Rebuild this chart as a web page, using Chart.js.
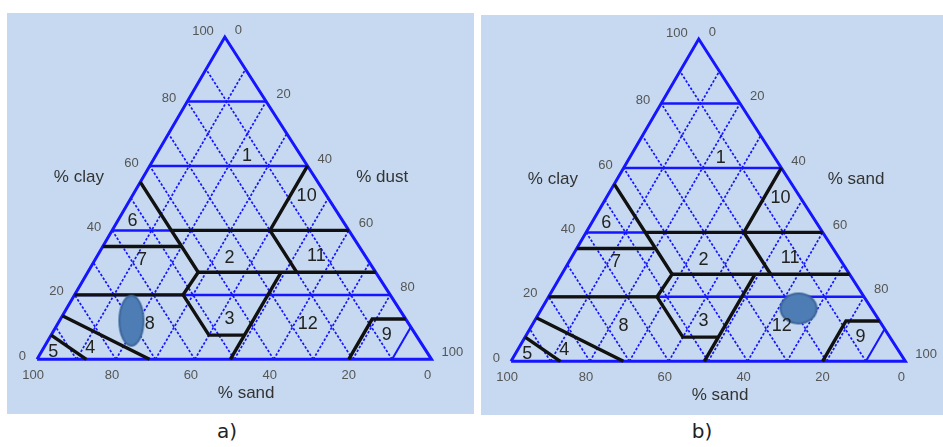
<!DOCTYPE html>
<html>
<head>
<meta charset="utf-8">
<script src="https://cdn.jsdelivr.net/npm/chart.js@4.4.1/dist/chart.umd.min.js"></script>
<style>
  body { margin: 0; background: #fff; width: 943px; height: 447px; position: relative; overflow: hidden; }
  .panel { position: absolute; background: #c6d9f0; }
  .panel canvas { display: block; }
  #panelA { left: 7px; top: 13px; width: 467px; height: 401px; }
  #panelB { left: 481px; top: 15px; width: 462px; height: 400px; }
  .cap { position: absolute; top: 419px; width: 60px; text-align: center; font: 20px "DejaVu Sans", sans-serif; color: #222; }
</style>
</head>
<body>
<div class="panel" id="panelA"><canvas id="chartA" width="467" height="401"></canvas></div>
<div class="panel" id="panelB"><canvas id="chartB" width="462" height="400"></canvas></div>
<div class="cap" style="left:197px">a)</div>
<div class="cap" style="left:672px">b)</div>
<script>
// ternary grid, all values in percent
const clayLevels = [20, 40, 60, 80];
const gridSteps = [10, 20, 30, 40, 50, 60, 70, 80, 90];
const solidDust = [90];
const tickValues = [0, 20, 40, 60, 80, 100];

// class boundaries, each point is [clay, sand]
const boundaries = [
  [[55, 45], [27, 45], [20, 52.5], [7.5, 52.5], [7.5, 43.5]],
  [[35, 65], [35, 45]],
  [[40, 45], [40, 0]],
  [[27, 45], [27, 0]],
  [[20, 80], [20, 52.5]],
  [[60, 0], [40, 20], [27, 20]],
  [[27, 24], [0, 51]],
  [[0, 21], [12.5, 8.5], [12.5, 0]],
  [[13.5, 86.5], [0, 71.5]],
  [[7.5, 92.5], [0, 87.5]]
];

const classNames = ['1', '2', '3', '4', '5', '6', '7', '8', '9', '10', '11', '12'];
const classClay = [63, 31.3, 12.6, 3.5, 2.3, 42.8, 30.7, 10.8, 7.6, 50.7, 31.9, 10.8];
const classSand = [13.8, 34.8, 44.6, 84.7, 94.7, 53.4, 57.3, 65.8, 7.4, 5.1, 12.5, 25.7];

// measured samples
const sampleClay = [12.0, 16.4];
const sampleSand = [69.8, 18.5];

const leftTitles = ['% clay', '% clay'];
const rightTitles = ['% dust', '% sand'];
const bottomTitles = ['% sand', '% sand'];

const BLUE = '#1515ff';
const TOP_X = 0.476;   // apex sits a bit left of the base centre
const PX_X = 4.14, PX_Y = 3.41, BASE_LEFT = 20, BASE_TOP = 354.8;

function toXY(clay, sand) {
  return { x: 100 - sand - clay * (1 - TOP_X), y: clay };
}

function line(points, style) {
  return Object.assign({
    data: points.map(p => toXY(p[0], p[1])),
    showLine: true,
    pointRadius: 0,
    fill: false,
    borderJoinStyle: 'miter'
  }, style);
}

function ellipseImage(rx, ry) {
  const c = document.createElement('canvas');
  c.width = rx * 2 + 4;
  c.height = ry * 2 + 4;
  const g = c.getContext('2d');
  g.beginPath();
  g.ellipse(rx + 2, ry + 2, rx, ry, 0, 0, Math.PI * 2);
  g.fillStyle = '#4e7db6';
  g.fill();
  g.lineWidth = 2;
  g.strokeStyle = '#3b6699';
  g.stroke();
  return c;
}

const labelPlugin = {
  id: 'ternaryLabels',
  afterDatasetsDraw(chart, args, opts) {
    const { ctx } = chart;
    const xs = chart.scales.x, ys = chart.scales.y;
    const px = (c, s) => {
      const p = toXY(c, s);
      return [xs.getPixelForValue(p.x), ys.getPixelForValue(p.y)];
    };
    const at = (X, Y) => [xs.getPixelForValue(X), ys.getPixelForValue(Y)];
    ctx.save();
    ctx.textBaseline = 'middle';
    ctx.font = '13px "Liberation Sans", Arial, sans-serif';
    ctx.fillStyle = '#555';

    ctx.textAlign = 'right';
    tickValues.forEach(v => {
      const [x, y] = px(v, 100 - v);
      ctx.fillText(String(v), x - 11, y - (v === 100 ? 6 : 3));
    });
    ctx.textAlign = 'left';
    tickValues.forEach(v => {
      const [x, y] = px(100 - v, 0);
      ctx.fillText(String(v), x + 10, y - 7);
    });
    ctx.textAlign = 'center';
    tickValues.forEach(v => {
      const [x, y] = px(0, v);
      ctx.fillText(String(v), x - 4, y + 16);
    });

    ctx.font = '17px "Liberation Sans", Arial, sans-serif';
    ctx.fillStyle = '#333';
    let [x, y] = at(10.6, 56.5);
    ctx.fillText(leftTitles[opts.panel], x, y);
    [x, y] = at(87.5, 56.4);
    ctx.fillText(rightTitles[opts.panel], x, y);
    [x, y] = at(53, -10.5);
    ctx.fillText(bottomTitles[opts.panel], x, y);

    ctx.font = '18px "Liberation Sans", Arial, sans-serif';
    ctx.fillStyle = '#222';
    classNames.forEach((name, i) => {
      const [cx, cy] = px(classClay[i], classSand[i]);
      ctx.fillText(name, cx, cy);
    });
    ctx.restore();
  }
};

function makeChart(id, panel, width, height, marker) {
  const datasets = [];
  const dashed = { borderColor: BLUE, borderWidth: 1.7, borderDash: [2.5, 1.8], order: 4 };
  gridSteps.forEach(k => {
    datasets.push(line([[0, k], [100 - k, k]], dashed));
    const dustStyle = solidDust.includes(k) ? { borderColor: BLUE, borderWidth: 2, order: 3 } : dashed;
    datasets.push(line([[0, 100 - k], [100 - k, 0]], dustStyle));
  });
  clayLevels.forEach(c => datasets.push(line([[c, 100 - c], [c, 0]], { borderColor: BLUE, borderWidth: 2.5, order: 3 })));
  datasets.push(line([[0, 100], [0, 0], [100, 0], [0, 100]], { borderColor: BLUE, borderWidth: 3, order: 3 }));
  boundaries.forEach(b => datasets.push(line(b, { borderColor: '#111', borderWidth: 3.4, order: 2 })));
  datasets.push({
    data: [toXY(sampleClay[panel], sampleSand[panel])],
    pointStyle: marker,
    pointRadius: 10,
    order: 1
  });

  return new Chart(document.getElementById(id), {
    type: 'scatter',
    data: { datasets },
    options: {
      responsive: false,
      animation: false,
      events: [],
      layout: { padding: 0 },
      scales: {
        x: { type: 'linear', display: false, min: -BASE_LEFT / PX_X, max: (width - BASE_LEFT) / PX_X },
        y: { type: 'linear', display: false, min: -(height - BASE_TOP) / PX_Y, max: BASE_TOP / PX_Y }
      },
      plugins: {
        legend: { display: false },
        tooltip: { enabled: false },
        ternaryLabels: { panel }
      }
    },
    plugins: [labelPlugin]
  });
}

makeChart('chartA', 0, 467, 401, ellipseImage(12, 25));
makeChart('chartB', 1, 462, 400, ellipseImage(18, 15));
</script>
</body>
</html>
